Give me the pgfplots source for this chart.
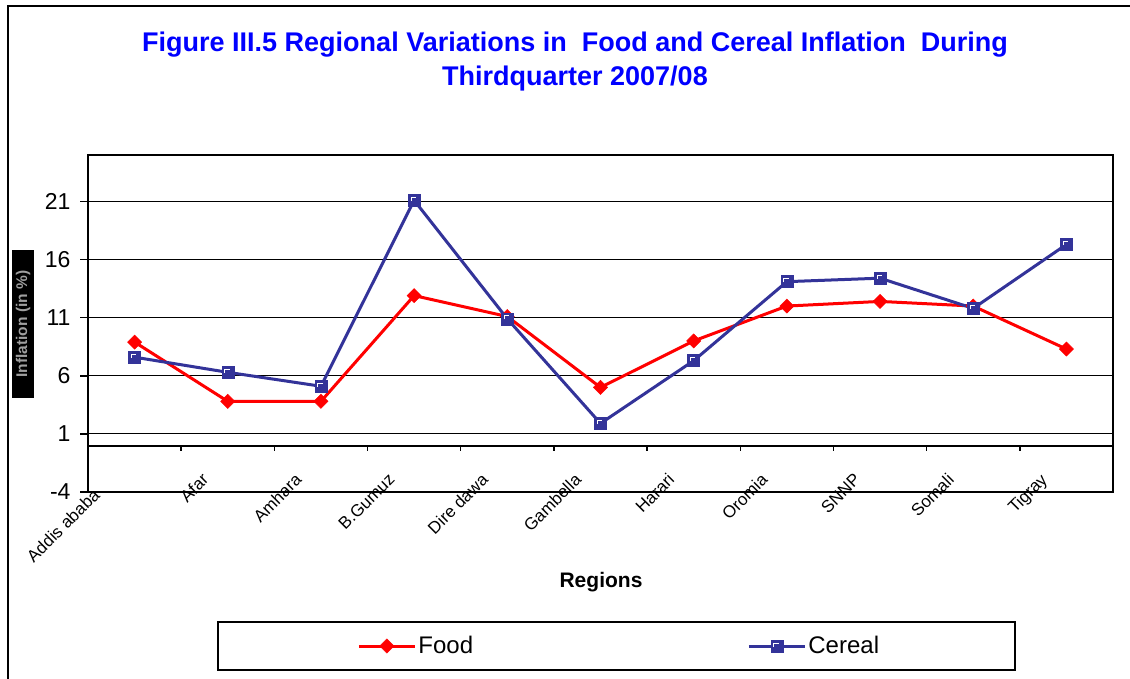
\documentclass[border=0pt]{standalone}
\usepackage{pgfplots}
\pgfplotsset{compat=1.18}
\usepackage{fontspec}
\setmainfont{Liberation Sans}
\definecolor{foodred}{HTML}{FF0000}
\definecolor{cerealblue}{HTML}{333399}
\definecolor{titleblue}{HTML}{0000FF}
\pgfdeclareplotmark{csq}{%
  \pgfpathrectangle{\pgfpoint{-\pgfplotmarksize}{-\pgfplotmarksize}}{\pgfpoint{2\pgfplotmarksize}{2\pgfplotmarksize}}%
  \pgfusepathqfillstroke
  \pgfscope
  \pgfsetstrokecolor{white}%
  \pgfsetlinewidth{1pt}%
  \pgfpathmoveto{\pgfpoint{-0.5\pgfplotmarksize}{-0.1\pgfplotmarksize}}%
  \pgfpathlineto{\pgfpoint{-0.5\pgfplotmarksize}{0.5\pgfplotmarksize}}%
  \pgfpathlineto{\pgfpoint{0.3\pgfplotmarksize}{0.5\pgfplotmarksize}}%
  \pgfusepathqstroke
  \endpgfscope
}
\begin{document}
\begin{tikzpicture}[x=1pt,y=1pt]
\path[use as bounding box] (0,0) rectangle (1130,679);
\draw[line width=2pt] (8,-20) -- (8,673) -- (1150,673);
\node[font=\fontsize{27}{32}\selectfont\bfseries, text=titleblue, anchor=base] at (575,627) {Figure III.5 Regional Variations in\ \ Food and Cereal Inflation\ \ During};
\node[font=\fontsize{27}{32}\selectfont\bfseries, text=titleblue, anchor=base] at (575,593) {Thirdquarter 2007/08};
\node[rotate=90, fill=black, text=gray!75, font=\fontsize{15.5}{18}\selectfont\bfseries, inner xsep=3pt, inner ysep=2pt, minimum width=148pt, minimum height=22pt] at (23,355) {Inflation (in \%)};
\node[font=\fontsize{21}{24}\selectfont\bfseries] at (601,97) {Regions};
\begin{axis}[
  at={(88pt,187pt)}, anchor=south west, scale only axis,
  width=1025pt, height=337pt,
  xmin=-0.5, xmax=10.5, ymin=-4, ymax=25,
  ytick={-4,1,6,11,16,21},
  xtick={0,...,10},
  xticklabels={Addis ababa\hspace*{22pt}, Afar, Amhara, B.Gumuz, Dire dawa, Gambella, Harari, Oromia, SNNP, Somali, Tigray},
  /pgf/number format/assume math mode=true,
  tick align=outside,
  major tick length=8pt,
  xtick style={draw=none},
  ytick pos=left,
  tick style={black, line width=1.5pt},
  ymajorgrids,
  grid style={black, line width=1.2pt},
  axis line style={line width=2pt},
  yticklabel style={font=\fontsize{23}{23}\selectfont, xshift=-6pt},
  xticklabel style={xshift=-27pt, yshift=28pt, rotate=45, anchor=north east, font=\fontsize{17}{18}\selectfont, inner sep=0pt},
  legend columns=2,
  legend image code/.code={\draw[mark repeat=2,mark phase=2,#1] plot coordinates {(0pt,0pt) (28pt,0pt) (56pt,0pt)};},
  legend style={at={(0.516,-0.457)}, anchor=center, draw=black, line width=2pt,
    inner xsep=139pt, inner ysep=13pt,
    /tikz/every even column/.append style={column sep=261pt},
    nodes={text width=66pt, font=\fontsize{24}{26}\selectfont, inner sep=2pt, align=left}},
]
\draw[line width=2pt] (axis cs:-0.5,0) -- (axis cs:10.5,0);
\pgfplotsinvokeforeach{0.5,1.5,2.5,3.5,4.5,5.5,6.5,7.5,8.5,9.5}{
  \draw[line width=1.5pt] (axis cs:#1,0) -- ++(0pt,-5pt);
}
\addplot[color=foodred, line width=3pt, mark=square*, mark size=5pt,
  mark options={rotate=45, fill=foodred, draw=foodred, line width=0.5pt}]
  coordinates {(0,8.9) (1,3.8) (2,3.8) (3,12.9) (4,11.1) (5,5.0) (6,9.0) (7,12.0) (8,12.4) (9,12.0) (10,8.3)};
\addlegendentry{Food}
\addplot[color=cerealblue, line width=3pt, mark=csq, mark size=6pt,
  mark options={fill=cerealblue, draw=cerealblue, line width=0.5pt}]
  coordinates {(0,7.6) (1,6.3) (2,5.1) (3,21.1) (4,10.9) (5,1.9) (6,7.3) (7,14.1) (8,14.4) (9,11.8) (10,17.3)};
\addlegendentry{Cereal}
\end{axis}
\end{tikzpicture}
\end{document}
